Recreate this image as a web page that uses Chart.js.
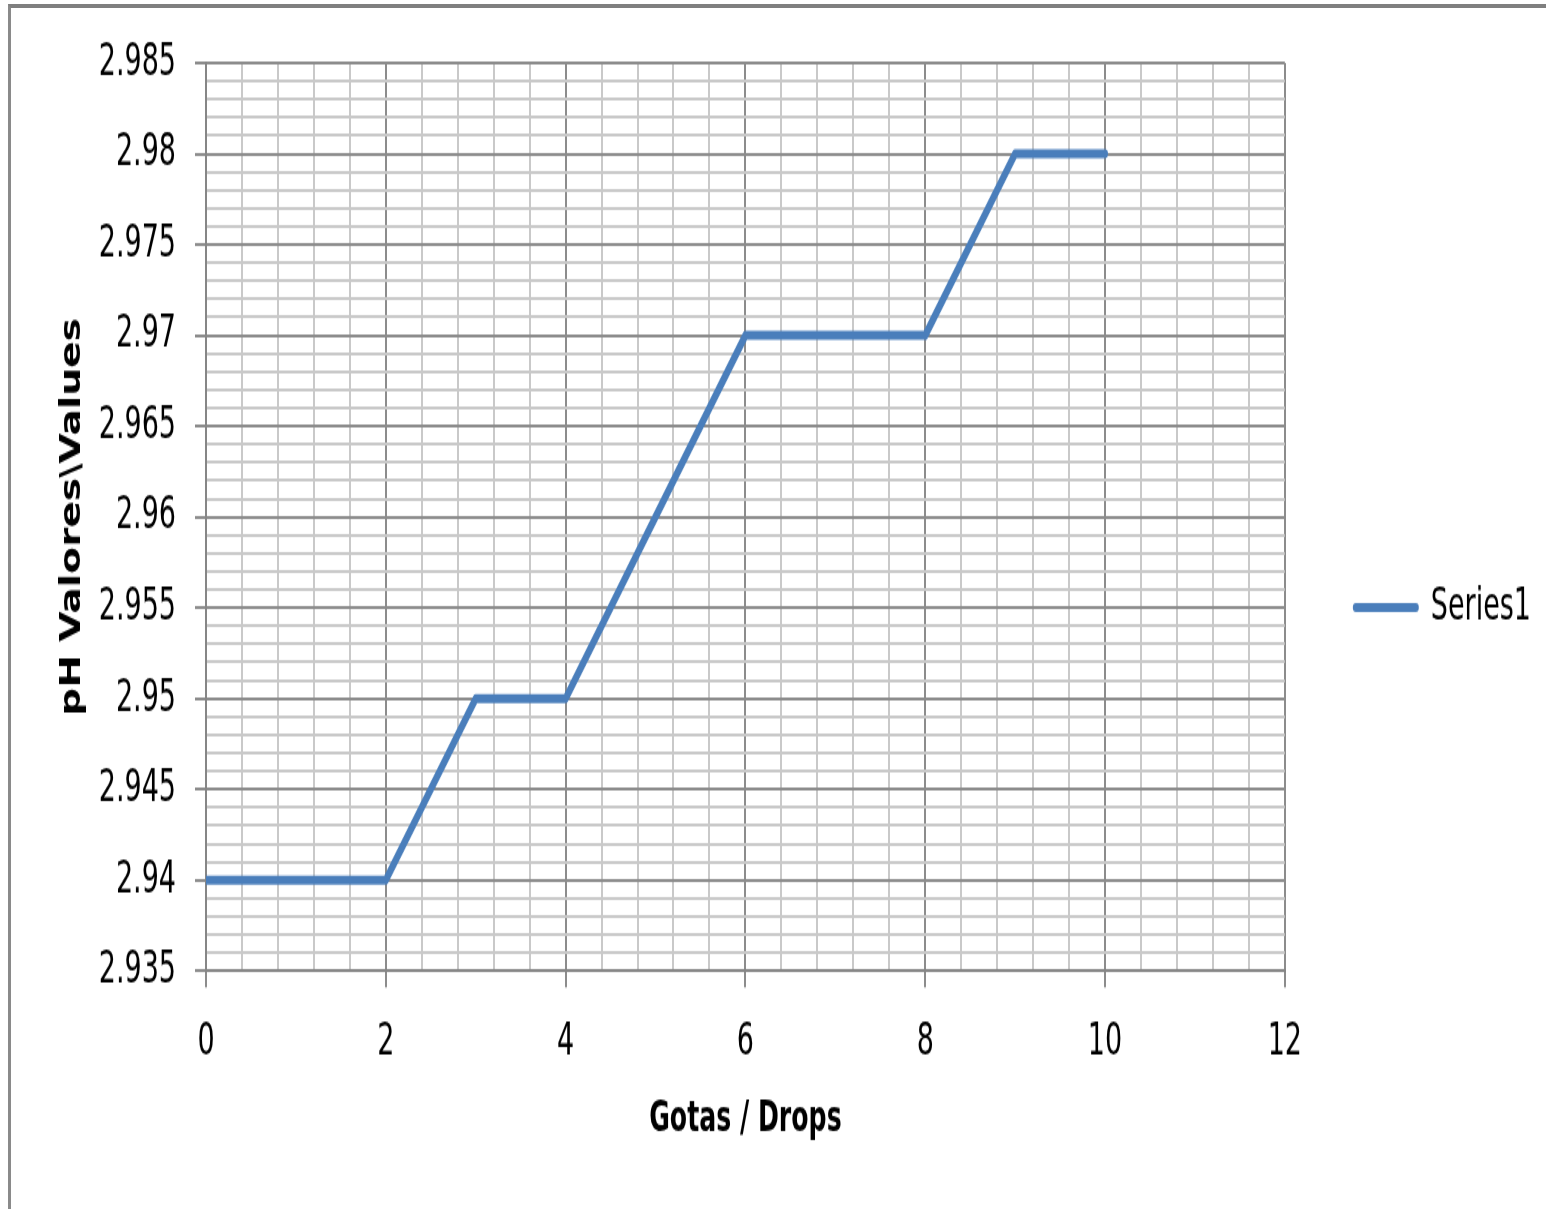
<!DOCTYPE html>
<html>
<head>
<meta charset="utf-8">
<script src="https://cdn.jsdelivr.net/npm/chart.js@4.4.1/dist/chart.umd.min.js"></script>
<style>
  html, body { margin: 0; padding: 0; background: #fff; overflow: hidden; }
  #marco {
    position: absolute; left: 8px; top: 4px; width: 1560px; height: 1201px;
    border-left: 3px solid #8a8a8a; border-top: 4px solid #7f7f7f; border-bottom: 2px solid #d4d4d4;
  }
  /* la imagen original esta estirada en vertical */
  #caja { position: absolute; left: 0; top: 0; width: 1546px; height: 806px;
          transform: scaleY(1.5); transform-origin: 0 0; }
</style>
</head>
<body>
<div id="marco"></div>
<div id="caja"><canvas id="phChart" width="1546" height="806"></canvas></div>
<script>
// datos
const gotas = [0, 1, 2, 3, 4, 5, 6, 7, 8, 9, 10];
const valoresPH = [2.94, 2.94, 2.94, 2.95, 2.95, 2.96, 2.97, 2.97, 2.97, 2.98, 2.98];
const etiquetasX = ['0', '2', '4', '6', '8', '10', '12'];
const etiquetasY = ['2.935', '2.94', '2.945', '2.95', '2.955', '2.96', '2.965', '2.97', '2.975', '2.98', '2.985'];

const fuente = "'DejaVu Sans Condensed', 'DejaVu Sans', sans-serif";

// lineas secundarias: 5 divisiones por cada etiqueta
const marcasX = [];
for (let i = 0; i <= 30; i++) marcasX.push(+(i * 0.4).toFixed(3));
const marcasY = [];
for (let i = 0; i <= 50; i++) marcasY.push(+(2.935 + i * 0.001).toFixed(3));

const esMayorX = v => Math.abs(v / 2 - Math.round(v / 2)) < 1e-6;
const esMayorY = v => Math.abs(Math.round(v * 1000) % 5) === 0;

const puntos = gotas.map((g, i) => ({ x: g, y: valoresPH[i] }));

// sube un poco la leyenda (en el original no esta centrada en todo el alto)
const subirLeyenda = {
    id: 'subirLeyenda',
    afterLayout(chart) {
        const l = chart.legend;
        if (l) { l.top -= 19; l.bottom -= 19; }
    }
};

const ctx = document.getElementById('phChart').getContext('2d');
new Chart(ctx, {
    type: 'line',
    data: {
        datasets: [{
            label: 'Series1',
            data: puntos,
            borderColor: '#4a7ebb',
            backgroundColor: '#4a7ebb',
            borderWidth: 6,
            pointRadius: 0,
            tension: 0,
            borderCapStyle: 'round',
            borderJoinStyle: 'round'
        }]
    },
    plugins: [subirLeyenda],
    options: {
        responsive: false,
        animation: false,
        devicePixelRatio: 1,
        layout: { padding: { top: 42, right: 5, bottom: 0, left: 0 } },
        plugins: {
            tooltip: { enabled: false },
            legend: {
                display: true,
                position: 'right',
                labels: {
                    boxWidth: 60,
                    boxHeight: 0,
                    padding: 71,
                    color: '#000',
                    font: { family: fuente, size: 30 }
                }
            }
        },
        scales: {
            x: {
                type: 'linear',
                min: 0,
                max: 12,
                afterBuildTicks: s => { s.ticks = marcasX.map(v => ({ value: v })); },
                afterFit: s => { s.height = 158.7; },
                ticks: {
                    autoSkip: false,
                    maxRotation: 0,
                    padding: 19,
                    color: '#000',
                    font: { family: fuente, size: 30 },
                    callback: v => esMayorX(v) ? etiquetasX[Math.round(v / 2)] : ''
                },
                grid: {
                    color: c => esMayorX(c.tick.value) ? '#8c8c8c' : '#c9c9c9',
                    lineWidth: 2,
                    tickLength: 11,
                    tickColor: c => esMayorX(c.tick.value) ? '#8c8c8c' : 'rgba(0,0,0,0)'
                },
                border: { color: '#868686', width: 2 },
                title: {
                    display: true,
                    text: 'Gotas / Drops',
                    color: '#000',
                    font: { family: fuente, size: 28, weight: 'bold' },
                    padding: { top: 0, bottom: 42 }
                }
            },
            y: {
                type: 'linear',
                min: 2.935,
                max: 2.985,
                afterBuildTicks: s => { s.ticks = marcasY.map(v => ({ value: v })); },
                afterFit: s => { s.width = 206; },
                ticks: {
                    autoSkip: false,
                    padding: 19,
                    color: '#000',
                    font: { family: fuente, size: 30 },
                    callback: v => esMayorY(v) ? etiquetasY[Math.round((v - 2.935) * 200)] : ''
                },
                grid: {
                    color: c => esMayorY(c.tick.value) ? '#8c8c8c' : '#c9c9c9',
                    lineWidth: 2,
                    tickLength: 11,
                    tickColor: c => esMayorY(c.tick.value) ? '#8c8c8c' : 'rgba(0,0,0,0)'
                },
                border: { color: '#868686', width: 2 },
                title: {
                    display: true,
                    text: 'pH Valores\\Values',
                    color: '#000',
                    font: { family: fuente, size: 29, weight: 'bold' },
                    padding: { top: 55, bottom: 0 }
                }
            }
        }
    }
});
</script>
</body>
</html>
